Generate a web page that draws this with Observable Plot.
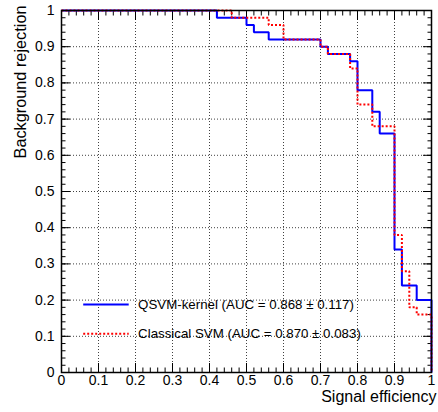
<!DOCTYPE html>
<html>
<head>
<meta charset="utf-8">
<script src="https://cdn.jsdelivr.net/npm/d3@7"></script>
<script src="https://cdn.jsdelivr.net/npm/@observablehq/plot@0.6"></script>
<style>
  html, body { margin: 0; padding: 0; background: #fff; }
  #chart svg { display: block; }
</style>
</head>
<body>
<div id="chart"></div>
<script>
// Step points (x = signal efficiency where step begins, y = background rejection)
const qsvmX = [0, 0.42, 0.50, 0.52, 0.56, 0.70, 0.72, 0.78, 0.80, 0.84, 0.86, 0.90, 0.92, 0.96, 1.00];
const qsvmY = [1, 0.98, 0.96, 0.94, 0.92, 0.90, 0.88, 0.86, 0.78, 0.72, 0.66, 0.34, 0.24, 0.20, 0.00];
const svmX  = [0, 0.46, 0.56, 0.60, 0.70, 0.72, 0.78, 0.80, 0.84, 0.90, 0.92, 0.94, 0.96, 1.00];
const svmY  = [1, 0.98, 0.96, 0.92, 0.90, 0.88, 0.84, 0.74, 0.68, 0.38, 0.28, 0.18, 0.16, 0.00];

const majorTicks = [0, 0.1, 0.2, 0.3, 0.4, 0.5, 0.6, 0.7, 0.8, 0.9, 1];
const tickLabels = ["0", "0.1", "0.2", "0.3", "0.4", "0.5", "0.6", "0.7", "0.8", "0.9", "1"];
const gridTicks = [0.1, 0.2, 0.3, 0.4, 0.5, 0.6, 0.7, 0.8, 0.9];
const minorTicks = d3.range(0, 51).map(i => i / 50);

const seriesNames = ["QSVM-kernel (AUC = 0.868 \u00b1 0.117)", "Classical SVM (AUC = 0.870 \u00b1 0.083)"];
const seriesColors = ["#0000ff", "#ff0000"];

const qsvm = qsvmX.map((x, i) => ({x, y: qsvmY[i]}));
const svm = svmX.map((x, i) => ({x, y: svmY[i]}));

// legend rows (frame-relative placement)
const legendRowY = [0.188, 0.107];

const fmt = d => tickLabels[majorTicks.indexOf(d)];
const font = "Liberation Sans, Arial, Helvetica, sans-serif";
const dots = "2,2";

const chart = Plot.plot({
  width: 438,
  height: 412,
  marginLeft: 61,
  marginRight: 7,
  marginTop: 10,
  marginBottom: 40,
  style: {fontFamily: font, background: "#fff"},
  x: {domain: [0, 1], label: null},
  y: {domain: [0, 1], label: null},
  marks: [
    Plot.gridX(gridTicks, {stroke: "#000", strokeOpacity: 0.75, strokeDasharray: "1,2", strokeWidth: 1}),
    Plot.gridY(gridTicks, {stroke: "#000", strokeOpacity: 0.75, strokeDasharray: "1,2", strokeWidth: 1}),
    // inward major & minor ticks on all four sides
    Plot.axisX({ticks: majorTicks, tickSize: -9, text: null, anchor: "bottom", label: null}),
    Plot.axisX({ticks: minorTicks, tickSize: -4.5, text: null, anchor: "bottom", label: null}),
    Plot.axisX({ticks: majorTicks, tickSize: -9, text: null, anchor: "top", label: null}),
    Plot.axisX({ticks: minorTicks, tickSize: -4.5, text: null, anchor: "top", label: null}),
    Plot.axisY({ticks: majorTicks, tickSize: -9, text: null, anchor: "left", label: null}),
    Plot.axisY({ticks: minorTicks, tickSize: -4.5, text: null, anchor: "left", label: null}),
    Plot.axisY({ticks: majorTicks, tickSize: -9, text: null, anchor: "right", label: null}),
    Plot.axisY({ticks: minorTicks, tickSize: -4.5, text: null, anchor: "right", label: null}),
    // tick labels
    Plot.axisX({ticks: majorTicks, tickSize: 0, tickPadding: 3, tickFormat: fmt, fontSize: 14, fill: "#000", label: null, anchor: "bottom"}),
    Plot.axisY({ticks: majorTicks, tickSize: 0, tickPadding: 7, tickFormat: fmt, fontSize: 14, fill: "#000", label: null, anchor: "left"}),
    // curves
    Plot.line(qsvm, {x: "x", y: "y", curve: "step-after", stroke: seriesColors[0], strokeWidth: 2, strokeLinecap: "butt", strokeLinejoin: "miter"}),
    Plot.line(svm, {x: "x", y: "y", curve: "step-after", stroke: seriesColors[1], strokeWidth: 2, strokeDasharray: dots, strokeLinecap: "butt", strokeLinejoin: "miter"}),
    // legend
    Plot.ruleY([legendRowY[0]], {x1: 0.06, x2: 0.183, stroke: seriesColors[0], strokeWidth: 2, strokeLinecap: "butt"}),
    Plot.ruleY([legendRowY[1]], {x1: 0.06, x2: 0.183, stroke: seriesColors[1], strokeWidth: 2, strokeDasharray: dots, strokeLinecap: "butt"}),
    Plot.text([0, 1], {x: 0.207, y: i => legendRowY[i], text: i => seriesNames[i], textAnchor: "start", fontSize: 13.3, fill: "#000"}),
    // axis titles
    Plot.text(["Signal efficiency"], {frameAnchor: "bottom-right", textAnchor: "end", dx: 5, dy: 29.5, fontSize: 16, fill: "#000"}),
    Plot.text(["Background rejection"], {frameAnchor: "top-left", textAnchor: "end", rotate: -90, dx: -47, dy: -5, fontSize: 16.3, fill: "#000"}),
    Plot.frame({stroke: "#000", strokeWidth: 1.5})
  ]
});
document.getElementById("chart").appendChild(chart);
</script>
</body>
</html>
